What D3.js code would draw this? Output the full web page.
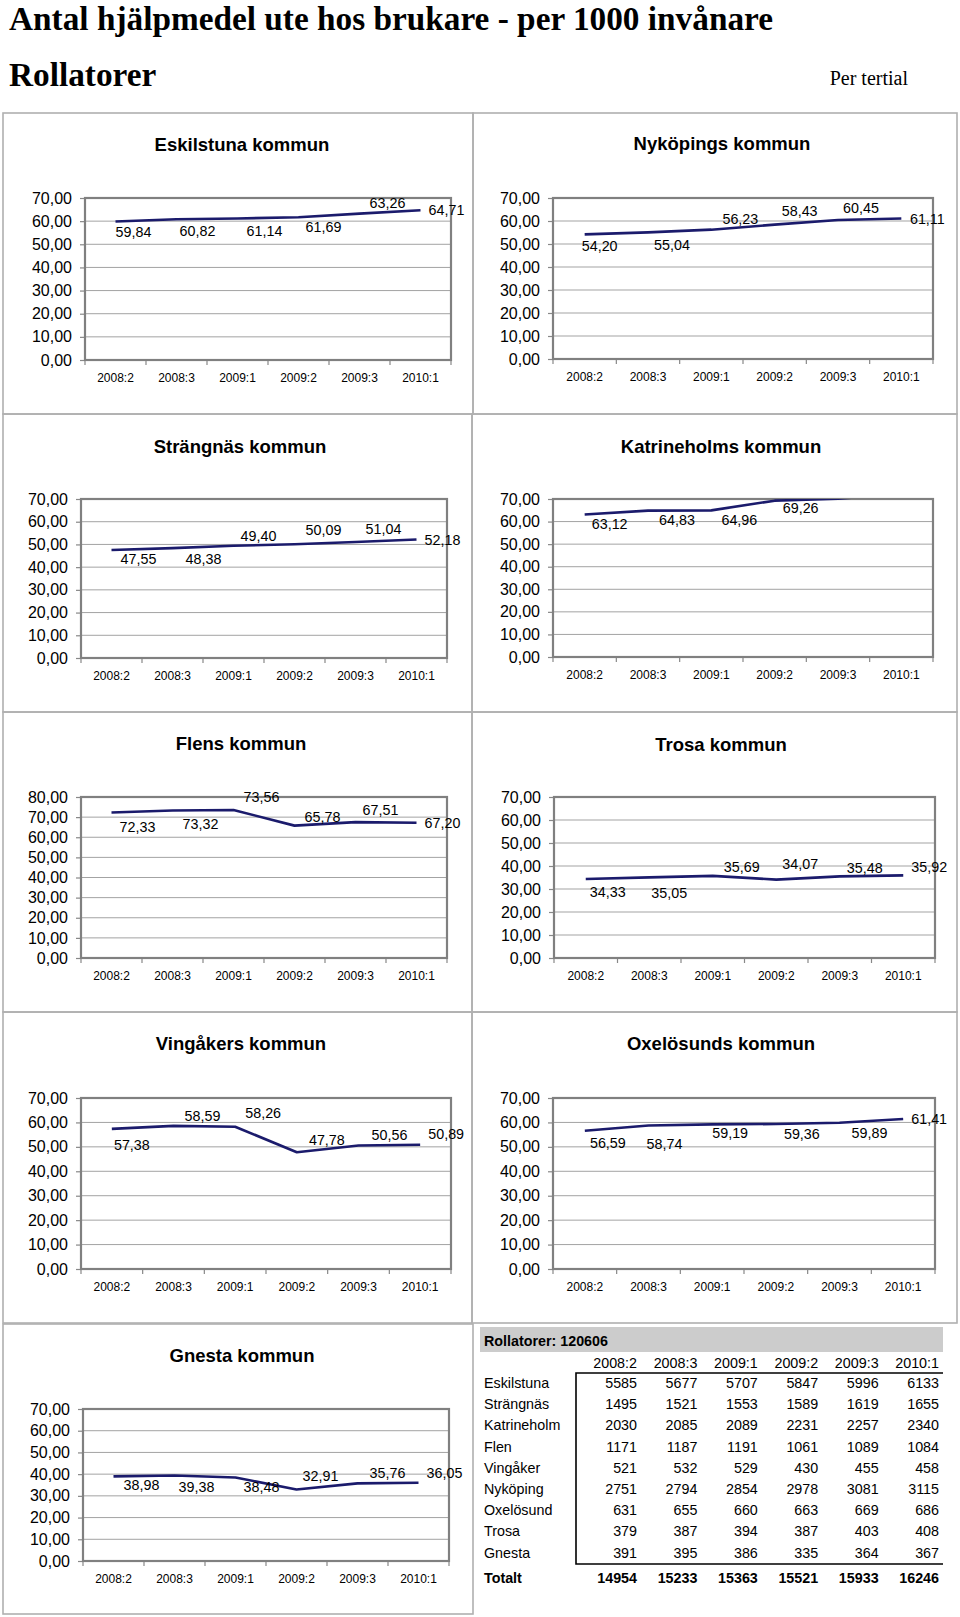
<!DOCTYPE html>
<html><head><meta charset="utf-8">
<script src="https://cdn.jsdelivr.net/npm/d3@7"></script>
<style>
html,body{margin:0;padding:0;background:#fff;}
svg{display:block;}
</style>
</head><body>
<script>
// ---------- DATA ----------
const categories = ["2008:2","2008:3","2009:1","2009:2","2009:3","2010:1"];
const eskilstuna  = [59.84, 60.82, 61.14, 61.69, 63.26, 64.71];
const nykoping    = [54.20, 55.04, 56.23, 58.43, 60.45, 61.11];
const strangnas   = [47.55, 48.38, 49.40, 50.09, 51.04, 52.18];
const katrineholm = [63.12, 64.83, 64.96, 69.26, 70.10, 72.40];
const flen        = [72.33, 73.32, 73.56, 65.78, 67.51, 67.20];
const trosa       = [34.33, 35.05, 35.69, 34.07, 35.48, 35.92];
const vingaker    = [57.38, 58.59, 58.26, 47.78, 50.56, 50.89];
const oxelosund   = [56.59, 58.74, 59.19, 59.36, 59.89, 61.41];
const gnesta      = [38.98, 39.38, 38.48, 32.91, 35.76, 36.05];
const ticks70 = [0,10,20,30,40,50,60,70];
const ticks80 = [0,10,20,30,40,50,60,70,80];

const tableTitle = "Rollatorer: 120606";
const tableRows = ["Eskilstuna","Strängnäs","Katrineholm","Flen","Vingåker","Nyköping","Oxelösund","Trosa","Gnesta"];
const tEskilstuna  = [5585,5677,5707,5847,5996,6133];
const tStrangnas   = [1495,1521,1553,1589,1619,1655];
const tKatrineholm = [2030,2085,2089,2231,2257,2340];
const tFlen        = [1171,1187,1191,1061,1089,1084];
const tVingaker    = [521,532,529,430,455,458];
const tNykoping    = [2751,2794,2854,2978,3081,3115];
const tOxelosund   = [631,655,660,663,669,686];
const tTrosa       = [379,387,394,387,403,408];
const tGnesta      = [391,395,386,335,364,367];
const tTotalt      = [14954,15233,15363,15521,15933,16246];

// ---------- LAYOUT ----------
const W = 960, H = 1617;
const SANS = "'Liberation Sans', Arial, Helvetica, sans-serif";
const SERIF = "'Liberation Serif', 'Times New Roman', serif";
const LINE = "#1b1b6c";

const panels = [
  {title:"Eskilstuna kommun", values:eskilstuna, ticks:ticks70,
   box:[3,113,473,414], tx:242, ty:150.5, plot:[85,198,451,360],
   off:[[18,10],[21,12],[27,12],[25,10],[28,-11],[26,0]]},
  {title:"Nyköpings kommun", values:nykoping, ticks:ticks70,
   box:[473,113,957,414], tx:722, ty:149.5, plot:[553,198,933,359],
   off:[[15,12],[24,12],[29,-11],[25,-14],[23,-12],[26,0]]},
  {title:"Strängnäs kommun", values:strangnas, ticks:ticks70,
   box:[3,414,472,712], tx:240, ty:452.5, plot:[81,499,447,658],
   off:[[27,9],[31,11],[25,-10],[29,-14],[28,-13],[26,0]]},
  {title:"Katrineholms kommun", values:katrineholm, ticks:ticks70,
   box:[472,414,957,712], tx:721, ty:452.5, plot:[553,499,933,657],
   off:[[25,9],[29,9],[28,9],[26,7],[26,0],[26,0]]},
  {title:"Flens kommun", values:flen, ticks:ticks80,
   box:[3,712,472,1012], tx:241, ty:749.5, plot:[81,797,447,958],
   off:[[26,14],[28,13],[28,-13],[28,-9],[25,-12],[26,0]]},
  {title:"Trosa kommun", values:trosa, ticks:ticks70,
   box:[472,712,957,1012], tx:721, ty:750.5, plot:[554,797,935,958],
   off:[[22,13],[20,15],[29,-9],[24,-16],[25,-9],[26,-9]]},
  {title:"Vingåkers kommun", values:vingaker, ticks:ticks70,
   box:[3,1012,472,1323], tx:241, ty:1049.5, plot:[81,1098,451,1269],
   off:[[20,16],[29,-10],[28,-14],[30,-12],[31,-11],[26,-11]]},
  {title:"Oxelösunds kommun", values:oxelosund, ticks:ticks70,
   box:[472,1012,957,1323], tx:721, ty:1049.5, plot:[553,1098,935,1269],
   off:[[23,12],[16,18],[18,8],[26,10],[30,10],[26,0]]},
  {title:"Gnesta kommun", values:gnesta, ticks:ticks70,
   box:[3,1324,473,1614], tx:242, ty:1361.5, plot:[83,1409,449,1561],
   off:[[28,8],[22,11],[26,9],[24,-14],[30,-10],[26,-10]]}
];

const locale = d3.formatLocale({decimal:",", thousands:"\u00a0", grouping:[3], currency:["","kr"]});
const fmt2 = locale.format(".2f");

const svg = d3.select("body").append("svg").attr("width",W).attr("height",H)
  .attr("viewBox",`0 0 ${W} ${H}`);
svg.append("rect").attr("width",W).attr("height",H).attr("fill","#fff");

// page headings
svg.append("text").attr("x",9).attr("y",29.5).attr("font-family",SERIF).attr("font-weight","bold")
  .attr("font-size",33.3).attr("fill","#000").text("Antal hjälpmedel ute hos brukare - per 1000 invånare");
svg.append("text").attr("x",9).attr("y",86).attr("font-family",SERIF).attr("font-weight","bold")
  .attr("font-size",33.3).attr("fill","#000").text("Rollatorer");
svg.append("text").attr("x",908).attr("y",85).attr("text-anchor","end").attr("font-family",SERIF)
  .attr("font-size",20).attr("fill","#000").text("Per tertial");

const defs = svg.append("defs");

panels.forEach((p,i) => {
  const g = svg.append("g");
  const [bx0,by0,bx1,by1] = p.box;
  g.append("rect").attr("x",bx0).attr("y",by0).attr("width",bx1-bx0).attr("height",by1-by0)
    .attr("fill","none").attr("stroke","#b0b0b0").attr("stroke-width",1.6);

  g.append("text").attr("x",p.tx).attr("y",p.ty).attr("text-anchor","middle")
    .attr("font-family",SANS).attr("font-weight","bold").attr("font-size",18.5).attr("fill","#000")
    .text(p.title);

  const [px0,py0,px1,py1] = p.plot;
  const yMax = d3.max(p.ticks);
  const x = d3.scaleBand().domain(categories).range([px0,px1]).padding(0);
  const y = d3.scaleLinear().domain([0,yMax]).range([py1,py0]);
  const cx = c => x(c) + x.bandwidth()/2;

  // gridlines
  g.append("g").selectAll("line").data(p.ticks.filter(t => t>0 && t<yMax)).join("line")
    .attr("x1",px0).attr("x2",px1).attr("y1",d=>y(d)).attr("y2",d=>y(d))
    .attr("stroke","#a3a3a3").attr("stroke-width",1);

  // y axis
  const ya = g.append("g").attr("transform",`translate(${px0},0)`)
    .call(d3.axisLeft(y).tickValues(p.ticks).tickFormat(fmt2).tickSize(5).tickPadding(8));
  ya.select(".domain").remove();
  ya.selectAll(".tick line").attr("stroke","#888").attr("stroke-width",1.2);
  ya.selectAll(".tick text").attr("font-family",SANS).attr("font-size",16).attr("fill","#000");

  // x axis labels
  const xa = g.append("g").attr("transform",`translate(0,${py1})`)
    .call(d3.axisBottom(x).tickSize(0).tickPadding(13));
  xa.select(".domain").remove();
  xa.selectAll(".tick text").attr("font-family",SANS).attr("font-size",12).attr("fill","#000");
  // boundary ticks
  const bounds = categories.map(c => x(c)).concat([px1]);
  g.append("g").selectAll("line").data(bounds).join("line")
    .attr("x1",d=>d).attr("x2",d=>d).attr("y1",py1).attr("y2",py1+5)
    .attr("stroke","#888").attr("stroke-width",1.2);

  // plot border
  g.append("rect").attr("x",px0).attr("y",py0).attr("width",px1-px0).attr("height",py1-py0)
    .attr("fill","none").attr("stroke","#808080").attr("stroke-width",2.2);

  // line (clipped to plot area)
  const cid = "clip"+i;
  defs.append("clipPath").attr("id",cid).append("rect")
    .attr("x",px0).attr("y",py0).attr("width",px1-px0).attr("height",py1-py0);
  const line = d3.line().x((d,j)=>cx(categories[j])).y(d=>y(d));
  g.append("path").datum(p.values).attr("d",line).attr("fill","none")
    .attr("stroke",LINE).attr("stroke-width",2.6).attr("stroke-linejoin","round")
    .attr("clip-path",`url(#${cid})`);

  // data labels (only values inside axis range)
  g.append("g").selectAll("text").data(p.values.map((v,j)=>({v,j})).filter(d=>d.v<=yMax)).join("text")
    .attr("x",d=>cx(categories[d.j]) + p.off[d.j][0])
    .attr("y",d=>y(d.v) + p.off[d.j][1])
    .attr("dy","0.36em").attr("text-anchor","middle")
    .attr("font-family",SANS).attr("font-size",14.3).attr("fill","#000")
    .text(d=>fmt2(d.v));
});

// ---------- TABLE ----------
const tableData = [tEskilstuna,tStrangnas,tKatrineholm,tFlen,tVingaker,tNykoping,tOxelosund,tTrosa,tGnesta];
const tg = svg.append("g").attr("font-family",SANS).attr("fill","#000");
tg.append("rect").attr("x",480).attr("y",1327).attr("width",463).attr("height",25).attr("fill","#cccccc");
tg.append("text").attr("x",484).attr("y",1345.5).attr("font-weight","bold").attr("font-size",14.3).text(tableTitle);

const colX = d3.scalePoint().domain(categories).range([637,939]);
const rowY = d3.scaleLinear().domain([0,8]).range([1383,1552.5]);

tg.append("g").selectAll("text").data(categories).join("text")
  .attr("x",d=>colX(d)).attr("y",1368).attr("text-anchor","end").attr("font-size",14.3).text(d=>d);

tableRows.forEach((name,r) => {
  tg.append("text").attr("x",484).attr("y",rowY(r)+5).attr("font-size",14.3).text(name);
  tg.append("g").selectAll("text").data(tableData[r]).join("text")
    .attr("x",(d,j)=>colX(categories[j])).attr("y",rowY(r)+5).attr("text-anchor","end")
    .attr("font-size",14.3).text(d=>d);
});
tg.append("text").attr("x",484).attr("y",1583).attr("font-weight","bold").attr("font-size",14.3).text("Totalt");
tg.append("g").selectAll("text").data(tTotalt).join("text")
  .attr("x",(d,j)=>colX(categories[j])).attr("y",1583).attr("text-anchor","end")
  .attr("font-weight","bold").attr("font-size",14.3).text(d=>d);

// table frame (top, left, bottom)
tg.append("path").attr("d","M943,1373H576V1564H943").attr("fill","none")
  .attr("stroke","#000").attr("stroke-width",1.6);
</script>
</body></html>
